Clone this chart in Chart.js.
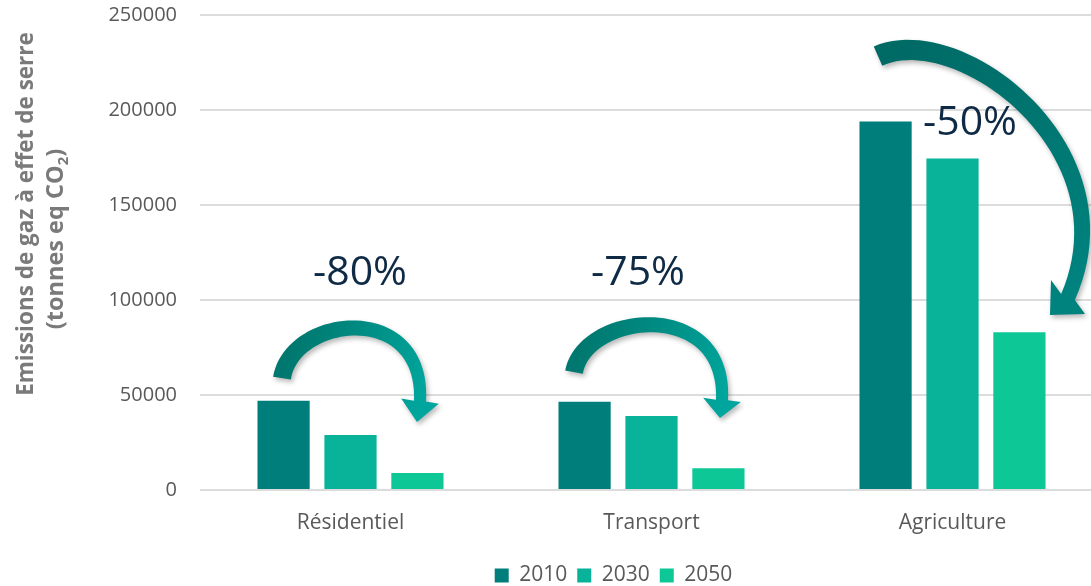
<!DOCTYPE html>
<html lang="fr">
<head>
<meta charset="utf-8">
<title>Emissions de gaz à effet de serre</title>
<script src="https://cdn.jsdelivr.net/npm/chart.js@4.4.1/dist/chart.umd.min.js"></script>
<style>
  html, body { margin: 0; padding: 0; background: #fff; overflow: hidden; }
  #wrap { width: 1103px; height: 596px; }
</style>
</head>
<body>
<div id="wrap"><canvas id="chart" width="1103" height="596"></canvas></div>
<script>
"use strict";

const CATEGORIES = ["Résidentiel", "Transport", "Agriculture"];
const YEARS = ["2010", "2030", "2050"];
const VALUES_2010 = [47000, 46500, 194000];
const VALUES_2030 = [29000, 39000, 174500];
const VALUES_2050 = [9000, 11500, 83000];
const REDUCTIONS = ["-80%", "-75%", "-50%"];
const Y_TICKS = [0, 50000, 100000, 150000, 200000, 250000];

const COLORS = ["#007e7c", "#08b39a", "#0dc896"];
const FONT = "'Open Sans', sans-serif";
const GREY = "#595959";

// curved arrows: x = offset from category centre (px), y = axis value
const ARROWS = [
  { cat: 0, w0: 18, w1: 12, head: 19, colors: ["#00786f", "#00a69d"],
    path: [[-68.5, 58900], [-58.5, 92100], [74.5, 100000], [69.5, 46800]], tip: [66.5, 35800] },
  { cat: 1, w0: 18, w1: 12, head: 19, colors: ["#00786f", "#00a69d"],
    path: [[-77.5, 62100], [-66.5, 93700], [75.5, 101600], [70.5, 47400]], tip: [68.5, 37900] },
  { cat: 2, w0: 21, w1: 15, head: 24, colors: ["#006a65", "#00837f"],
    path: [[-74.5, 228400], [7.5, 247400], [180, 178900], [115.5, 101600]], tip: [97.5, 92100] },
];
const LABEL_POS = [[9.5, 107900], [-13.5, 107900], [17.5, 186800]];

function toPx(chart, cat, p) {
  const x = chart.scales.x, y = chart.scales.y;
  return { x: x.getPixelForValue(cat) + p[0], y: y.getPixelForValue(p[1]) };
}

function bez(p, t) {
  const u = 1 - t;
  const a = u * u * u, b = 3 * u * u * t, c = 3 * u * t * t, d = t * t * t;
  return {
    x: a * p[0].x + b * p[1].x + c * p[2].x + d * p[3].x,
    y: a * p[0].y + b * p[1].y + c * p[2].y + d * p[3].y,
    dx: 3 * u * u * (p[1].x - p[0].x) + 6 * u * t * (p[2].x - p[1].x) + 3 * t * t * (p[3].x - p[2].x),
    dy: 3 * u * u * (p[1].y - p[0].y) + 6 * u * t * (p[2].y - p[1].y) + 3 * t * t * (p[3].y - p[2].y),
  };
}

function drawArrow(ctx, chart, a) {
  const p = a.path.map(q => toPx(chart, a.cat, q));
  const tip = toPx(chart, a.cat, a.tip);
  const N = 48, left = [], right = [];
  for (let k = 0; k <= N; k++) {
    const t = k / N;
    const b = bez(p, t);
    const len = Math.hypot(b.dx, b.dy) || 1;
    const nx = -b.dy / len, ny = b.dx / len;
    const w = (a.w0 + (a.w1 - a.w0) * t) / 2;
    left.push([b.x + nx * w, b.y + ny * w]);
    right.push([b.x - nx * w, b.y - ny * w]);
  }
  const end = p[3];
  const hx = tip.x - end.x, hy = tip.y - end.y, hl = Math.hypot(hx, hy);
  const px = -hy / hl, py = hx / hl;

  ctx.save();
  const g = ctx.createLinearGradient(p[0].x, p[0].y, tip.x, tip.y);
  g.addColorStop(0, a.colors[0]);
  g.addColorStop(1, a.colors[1]);
  ctx.fillStyle = g;
  ctx.shadowColor = "rgba(0,0,0,0.28)";
  ctx.shadowBlur = 5;
  ctx.shadowOffsetX = 2;
  ctx.shadowOffsetY = 3;
  ctx.beginPath();
  ctx.moveTo(left[0][0], left[0][1]);
  for (const q of left) ctx.lineTo(q[0], q[1]);
  ctx.lineTo(end.x + px * a.head, end.y + py * a.head);
  ctx.lineTo(tip.x, tip.y);
  ctx.lineTo(end.x - px * a.head, end.y - py * a.head);
  for (let k = right.length - 1; k >= 0; k--) ctx.lineTo(right[k][0], right[k][1]);
  ctx.closePath();
  ctx.fill();
  ctx.restore();
}

const decorations = {
  id: "decorations",
  afterLayout(chart) {
    // legend sits right of the canvas centre in the original
    chart.legend.left += 62;
    chart.legend.right += 62;
  },
  afterDatasetsDraw(chart) {
    const ctx = chart.ctx;
    for (const a of ARROWS) drawArrow(ctx, chart, a);
    ctx.save();
    ctx.fillStyle = "#0e2a45";
    ctx.font = "41px " + FONT;
    ctx.textAlign = "center";
    ctx.textBaseline = "alphabetic";
    REDUCTIONS.forEach((txt, i) => {
      const pt = toPx(chart, i, LABEL_POS[i]);
      ctx.fillText(txt, pt.x, pt.y);
    });
    ctx.restore();
  },
  afterDraw(chart) {
    // y axis title, two lines with a subscript
    const ctx = chart.ctx;
    ctx.save();
    ctx.fillStyle = "#7a7a7a";
    ctx.textBaseline = "alphabetic";
    ctx.font = "bold 22.5px " + FONT;
    ctx.translate(33, 214);
    ctx.rotate(-Math.PI / 2);
    ctx.textAlign = "center";
    ctx.fillText("Emissions de gaz à effet de serre", 0, 0);
    ctx.restore();

    ctx.save();
    ctx.fillStyle = "#7a7a7a";
    ctx.textBaseline = "alphabetic";
    ctx.translate(63, 239);
    ctx.rotate(-Math.PI / 2);
    ctx.textAlign = "left";
    const bigF = "bold 23.5px " + FONT, subF = "bold 15px " + FONT;
    ctx.font = bigF;
    const w1 = ctx.measureText("(tonnes eq CO").width;
    const w3 = ctx.measureText(")").width;
    ctx.font = subF;
    const w2 = ctx.measureText("2").width;
    let x = -(w1 + w2 + w3) / 2;
    ctx.font = bigF;
    ctx.fillText("(tonnes eq CO", x, 0);
    x += w1;
    ctx.font = subF;
    ctx.fillText("2", x, 5);
    x += w2;
    ctx.font = bigF;
    ctx.fillText(")", x, 0);
    ctx.restore();
  },
};

const chart = new Chart(document.getElementById("chart"), {
  type: "bar",
  data: {
    labels: CATEGORIES,
    datasets: [
      { label: YEARS[0], data: VALUES_2010, backgroundColor: COLORS[0] },
      { label: YEARS[1], data: VALUES_2030, backgroundColor: COLORS[1] },
      { label: YEARS[2], data: VALUES_2050, backgroundColor: COLORS[2] },
    ],
  },
  options: {
    responsive: false,
    animation: false,
    datasets: { bar: { barPercentage: 0.78, categoryPercentage: 0.667 } },
    layout: { padding: { top: 15, left: 0, right: 0, bottom: 0 } },
    plugins: {
      legend: {
        position: "bottom",
        labels: {
          boxWidth: 14, boxHeight: 14, padding: 10, color: GREY,
          font: { family: FONT, size: 21 },
        },
      },
      tooltip: { enabled: false },
    },
    scales: {
      x: {
        grid: { display: false, drawTicks: false },
        border: { display: false },
        ticks: { color: GREY, padding: 20, font: { family: FONT, size: 21 } },
        afterFit(s) { s.height = 65; },
      },
      y: {
        min: 0, max: 250000,
        afterBuildTicks(s) { s.ticks = Y_TICKS.map(v => ({ value: v })); },
        grid: { color: "#dcdcdc", lineWidth: 2, drawTicks: false },
        border: { display: false },
        ticks: {
          color: GREY, padding: 23, font: { family: FONT, size: 20 },
          callback: v => String(v),
        },
        afterFit(s) {
          s.width = 200;
          s.paddingTop = 0;
          s.paddingBottom = 0;
        },
      },
    },
  },
  plugins: [decorations],
});
</script>
</body>
</html>
